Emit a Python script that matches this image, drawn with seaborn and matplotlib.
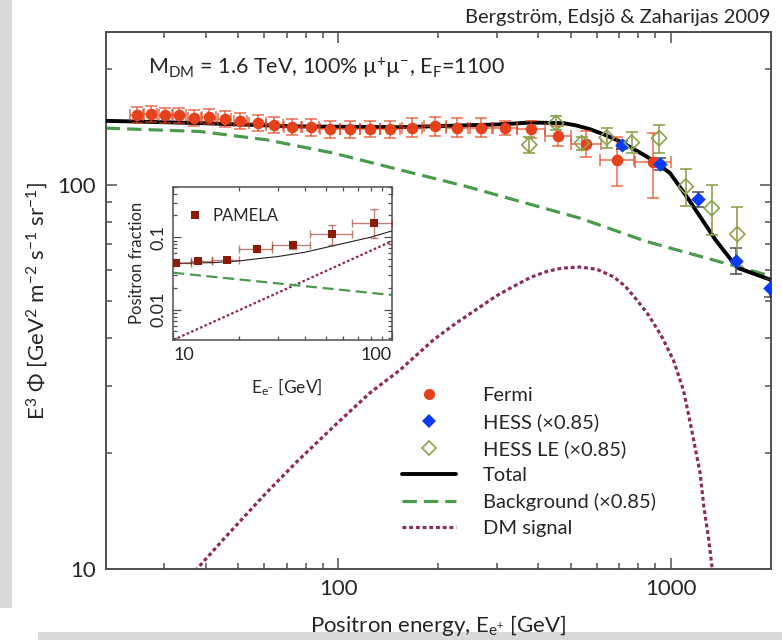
import matplotlib
matplotlib.use('Agg')
import matplotlib.pyplot as plt
import matplotlib.ticker as mticker
from matplotlib.lines import Line2D
from matplotlib.patches import Rectangle
import numpy as np
import pandas as pd
import seaborn as sns

# ---- main panel data (E in GeV, E^3 Phi in GeV^2 m^-2 s^-1 sr^-1) ----
fermi_E = [24.8, 27.3, 30.2, 33.3, 36.9, 40.9, 45.6, 50.8, 57.3, 64.3, 72.8, 82.7, 94.5,
           108.6, 124.7, 143.2, 166.8, 195.2, 228.3, 268.4, 317.7, 379.6, 459.4, 556.7, 691, 883.5]
fermi_F = [152.1, 153.0, 151.9, 151.9, 149.7, 150.6, 148.6, 146.8, 145.3, 143.3, 141.8, 141.3, 139.6,
           139.6, 139.9, 139.6, 141.0, 142.4, 141.0, 141.0, 141.0, 139.6, 134.4, 127.9, 116.2, 114.6]
fermi_err = [7, 7, 7, 7, 7, 7, 7, 7, 7, 7, 7, 7, 7, 7, 7, 7, 8, 8, 8, 8, 6, 7, 8, 10, 17, 22]
fermi_bin_dex = [0.02, 0.02, 0.02, 0.02, 0.02, 0.02, 0.02, 0.02, 0.025, 0.025, 0.025, 0.025, 0.03,
                 0.03, 0.03, 0.03, 0.03, 0.033, 0.033, 0.033, 0.036, 0.042, 0.039, 0.045, 0.051, 0.054]

hess_E = [715.5, 929, 1211, 1573, 1991]
hess_F = [127.1, 113.4, 91.8, 63.5, 54.0]
hess_err = [3, 4, 4, 5, 3]

hessle_E = [375.8, 452.1, 540.2, 642.4, 763.8, 922.9, 1110, 1329, 1587]
hessle_F = [127.1, 144.8, 128.4, 132.8, 128.9, 132.3, 99.0, 87.0, 74.4]
hessle_err = [6, 6, 5, 8, 8, 11, 11, 13, 13]

total_E = [20, 38.4, 76.8, 153.5, 307, 379, 475.9, 520, 572, 630, 704.6, 770, 847, 920, 995.6,
           1118, 1200, 1284, 1360, 1440, 1520, 1598, 2000]
total_F = [146.8, 144.8, 141.9, 141.3, 143.7, 145.3, 144.8, 142.8, 139.6, 135.3, 129.7, 124.3, 118.5,
           113.0, 107.3, 93.2, 85.0, 77.9, 72.2, 67.7, 63.8, 60.7, 56.6]

bg_E = [20, 38.4, 61.0, 96.7, 153.5, 243.5, 534, 847, 1581, 2000]
bg_F = [140.5, 137.7, 131, 121, 109.4, 99, 81.9, 71.2, 61.3, 57.9]

dm_E = [30, 37.6, 45, 60, 75, 100, 125, 153.7, 193.4, 225, 268, 300, 336.6, 380, 424, 470, 534,
        600, 672, 730, 791, 860, 940, 1019, 1093, 1157, 1226, 1259, 1299, 1334, 1360]
dm_F = [8.0, 10, 11.9, 15.6, 19.0, 24.1, 28.8, 33.0, 39.5, 43.5, 48.2, 51.5, 54.4, 57.5, 59.5, 60.7,
        61.1, 60.3, 57.7, 54.5, 50.2, 45.7, 40.3, 35.0, 29.2, 23.0, 17.8, 14.5, 12.1, 10, 8]

# ---- inset data (positron fraction) ----
pamela_E = [10.3, 13.0, 17.6, 24.1, 35.2, 53.4, 83.2]
pamela_f = [0.0435, 0.0472, 0.0478, 0.0677, 0.0776, 0.110, 0.159]
pamela_lo = [8.0, 12.1, 15.0, 20.0, 28.2, 42.3, 65.6]
pamela_hi = [12.1, 15.0, 20.0, 28.3, 42.3, 65.7, 100]
pamela_up = [0.002, 0.002, 0.002, 0.005, 0.009, 0.036, 0.09]
pamela_down = [0.002, 0.002, 0.002, 0.005, 0.008, 0.032, 0.06]

inset_tot_E = [10, 15, 20, 25, 30, 40, 60, 80, 100]
inset_tot_f = [0.0435, 0.0445, 0.047, 0.051, 0.054, 0.062, 0.082, 0.10, 0.122]
inset_bg_E = [10, 100]
inset_bg_f = [0.0323, 0.0159]
inset_dm_E = [10, 100]
inset_dm_f = [0.0038, 0.088]

RED = '#e5411d'
BLUE = '#0b3cf4'
OLIVE = '#8ca24e'
GREEN = '#4b9a4e'
PURPLE = '#892d5c'
PAM = '#8a1c0c'
FRAME = '#505050'

sns.set_style('ticks')
plt.rcParams['font.family'] = ['Lato', 'DejaVu Sans']
plt.rcParams['mathtext.fontset'] = 'custom'
plt.rcParams['mathtext.rm'] = 'Lato'
plt.rcParams['mathtext.it'] = 'Lato:italic'
plt.rcParams['mathtext.bf'] = 'Lato:bold'

fig = plt.figure(figsize=(7.82, 6.4), dpi=100)
fig.patch.set_facecolor('white')
# grey slide border
fig.add_artist(Rectangle((0, 0.05), 0.0155, 0.95, transform=fig.transFigure,
                         color='#dadad8', lw=0, zorder=-5))
fig.add_artist(Rectangle((0.049, 0), 0.951, 0.012, transform=fig.transFigure,
                         color='#dadad8', lw=0, zorder=-5))

ax = fig.add_axes([0.1352, 0.1109, 0.8504, 0.8391])
ax.set_xscale('log')
ax.set_yscale('log')

df_tot = pd.DataFrame({'E': total_E, 'F': total_F})
df_bg = pd.DataFrame({'E': bg_E, 'F': bg_F})
df_dm = pd.DataFrame({'E': dm_E, 'F': dm_F})

sns.lineplot(data=df_dm, x='E', y='F', ax=ax, color=PURPLE, lw=2.3,
             linestyle=(0, (1.2, 0.9)), zorder=2)
sns.lineplot(data=df_bg, x='E', y='F', ax=ax, color=GREEN, lw=2.3,
             linestyle=(0, (4.5, 2.2)), zorder=2)
sns.lineplot(data=df_tot, x='E', y='F', ax=ax, color='black', lw=2.8, zorder=3)

# error bars
f_E = np.array(fermi_E)
f_d = np.array(fermi_bin_dex)
ax.errorbar(fermi_E, fermi_F, yerr=fermi_err,
            xerr=[f_E - f_E / 10**f_d, f_E * 10**f_d - f_E],
            fmt='none', ecolor=RED, alpha=0.7, elinewidth=1.2, capsize=4, capthick=1.2, zorder=4)
ax.errorbar(hess_E, hess_F, yerr=hess_err, fmt='none', ecolor='#333333', alpha=0.8,
            elinewidth=1.2, capsize=4, capthick=1.2, zorder=4)
ax.errorbar(hessle_E, hessle_F, yerr=hessle_err, fmt='none', ecolor=OLIVE,
            elinewidth=1.2, capsize=4, capthick=1.2, zorder=4)

sns.scatterplot(x=fermi_E, y=fermi_F, ax=ax, color=RED, marker='o', s=70, linewidth=0, zorder=5)
sns.scatterplot(x=hess_E, y=hess_F, ax=ax, color=BLUE, marker='D', s=55, linewidth=0, zorder=5)
pts = sns.scatterplot(x=hessle_E, y=hessle_F, ax=ax, marker='D', s=60, zorder=5)
pts.collections[-1].set_facecolor('none')
pts.collections[-1].set_edgecolor(OLIVE)
pts.collections[-1].set_linewidth(1.2)

ax.set_xlim(20, 2000)
ax.set_ylim(10, 250)

ax.xaxis.set_major_locator(mticker.FixedLocator([100, 1000]))
ax.xaxis.set_major_formatter(mticker.FixedFormatter(['100', '1000']))
ax.xaxis.set_minor_locator(mticker.LogLocator(base=10, subs=np.arange(2, 10)))
ax.xaxis.set_minor_formatter(mticker.NullFormatter())
ax.yaxis.set_major_locator(mticker.FixedLocator([10, 100]))
ax.yaxis.set_major_formatter(mticker.FixedFormatter(['10', '100']))
ax.yaxis.set_minor_locator(mticker.LogLocator(base=10, subs=np.arange(2, 10)))
ax.yaxis.set_minor_formatter(mticker.NullFormatter())

ax.tick_params(which='both', direction='in', top=True, right=True, color=FRAME, width=1.1)
ax.tick_params(which='major', length=8, labelsize=16, pad=7)
ax.tick_params(which='minor', length=4)
for s in ax.spines.values():
    s.set_color(FRAME)
    s.set_linewidth(1.4)

ax.set_xlabel(r'Positron energy, E$_{\rm e^{+}}$ [GeV]', fontsize=16)
ax.set_ylabel(r'E$^{3}$ Φ [GeV$^{2}$ m$^{-2}$ s$^{-1}$ sr$^{-1}$]', fontsize=16)
ax.xaxis.set_label_coords(0.5, -0.082)
ax.yaxis.set_label_coords(-0.084, 0.5)

fig.text(0.985, 0.972, 'Bergström, Edsjö & Zaharijas 2009', ha='right', va='center', fontsize=14.5)
fig.text(0.189, 0.895, r'M$_{\rm DM}$ = 1.6 TeV, 100% µ$^{+}$µ$^{-}$, E$_{\rm F}$=1100',
         ha='left', va='center', fontsize=15.5)

handles = [
    Line2D([], [], marker='o', ls='none', color=RED, markersize=8, markeredgewidth=0),
    Line2D([], [], marker='D', ls='none', color=BLUE, markersize=7, markeredgewidth=0),
    Line2D([], [], marker='D', ls='none', markerfacecolor='none', markeredgecolor=OLIVE,
           markersize=7, markeredgewidth=1.2),
    Line2D([], [], color='black', lw=2.8),
    Line2D([], [], color=GREEN, lw=2.3, linestyle=(0, (4.5, 2.2))),
    Line2D([], [], color=PURPLE, lw=2.3, linestyle=(0, (1.2, 0.9))),
]
labels = ['Fermi', 'HESS (×0.85)', 'HESS LE (×0.85)', 'Total', 'Background (×0.85)', 'DM signal']
ax.legend(handles, labels, loc='upper left', bbox_to_anchor=(0.4456, 0.339), frameon=False,
          fontsize=14.5, handlelength=2.7, handletextpad=1.3, labelspacing=0.45,
          borderpad=0, borderaxespad=0)

# ---- inset: positron fraction ----
axi = fig.add_axes([0.2216, 0.4688, 0.2793, 0.2395])
axi.set_facecolor('white')
axi.set_xscale('log')
axi.set_yscale('log')

sns.lineplot(x=inset_dm_E, y=inset_dm_f, ax=axi, color=PURPLE, lw=1.6,
             linestyle=(0, (1.2, 1.0)), zorder=2)
sns.lineplot(x=inset_bg_E, y=inset_bg_f, ax=axi, color=GREEN, lw=1.6,
             linestyle=(0, (5, 2.5)), zorder=2)
sns.lineplot(x=inset_tot_E, y=inset_tot_f, ax=axi, color='#222222', lw=0.8, zorder=3)

p_E = np.array(pamela_E)
axi.errorbar(pamela_E, pamela_f, yerr=[pamela_down, pamela_up],
             xerr=[p_E - np.array(pamela_lo), np.array(pamela_hi) - p_E],
             fmt='none', ecolor=PAM, alpha=0.55, elinewidth=1.0, capsize=3, capthick=1.0, zorder=4)
sns.scatterplot(x=pamela_E, y=pamela_f, ax=axi, color=PAM, marker='s', s=32, linewidth=0, zorder=5)

axi.set_xlim(10, 100)
axi.set_ylim(0.0038, 0.5)
axi.set_xticks([10, 100], ['10', '100'])
axi.xaxis.set_minor_locator(mticker.LogLocator(base=10, subs=np.arange(2, 10)))
axi.xaxis.set_minor_formatter(mticker.NullFormatter())
axi.set_yticks([0.01, 0.1], ['0.01', '0.1'], rotation=90, va='center')
axi.yaxis.set_minor_locator(mticker.LogLocator(base=10, subs=np.arange(2, 10)))
axi.yaxis.set_minor_formatter(mticker.NullFormatter())
xl = axi.get_xticklabels()
xl[0].set_horizontalalignment('left')
xl[1].set_horizontalalignment('right')

axi.tick_params(which='both', direction='in', top=True, right=True, color=FRAME, width=0.9)
axi.tick_params(which='major', length=6, labelsize=13, pad=5)
axi.tick_params(which='minor', length=3)
for s in axi.spines.values():
    s.set_color(FRAME)
    s.set_linewidth(1.1)

axi.set_xlabel(r'E$_{\rm e^{-}}$ [GeV]', fontsize=12.5)
axi.set_ylabel('Positron fraction', fontsize=12)
axi.xaxis.set_label_coords(0.52, -0.24)
axi.yaxis.set_label_coords(-0.13, 0.5)

axi.legend([Line2D([], [], marker='s', ls='none', color=PAM, markersize=6, markeredgewidth=0)],
           ['PAMELA'], loc='upper left', bbox_to_anchor=(0.065, 0.86), frameon=False,
           fontsize=12, handlelength=0.9, handletextpad=0.6, borderpad=0, borderaxespad=0)

fig.savefig('out.png', dpi=100)
